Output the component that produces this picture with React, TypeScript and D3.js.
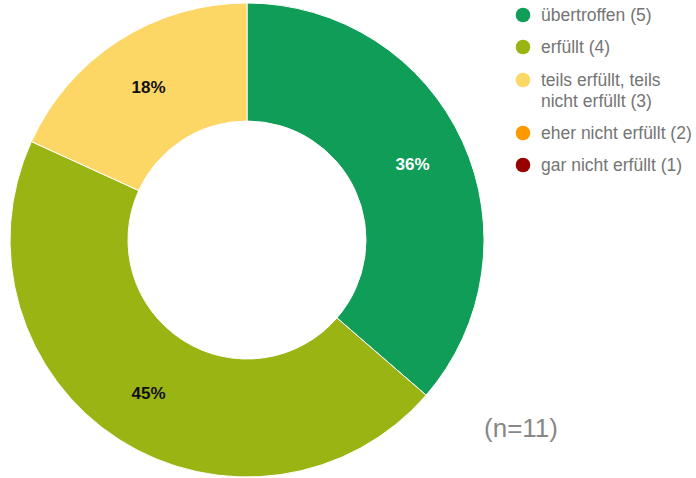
import React from "react";
import * as d3 from "d3";

const categories = ["übertroffen (5)", "erfüllt (4)", "teils erfüllt, teils nicht erfüllt (3)", "eher nicht erfüllt (2)", "gar nicht erfüllt (1)"];
const legendLines = [["übertroffen (5)"], ["erfüllt (4)"], ["teils erfüllt, teils", "nicht erfüllt (3)"], ["eher nicht erfüllt (2)"], ["gar nicht erfüllt (1)"]];
const counts = [4, 5, 2, 0, 0];
const colors = ["#0F9D58", "#9AB513", "#FDD766", "#FF9900", "#990000"];
const labelColors = ["#ffffff", "#111111", "#111111", "#111111", "#111111"];
const nLabel = "(n=11)";

export default function App() {
  const W = 696, H = 478;
  const cx = 247, cy = 240, rOuter = 237, rInner = 119;
  const total = d3.sum(counts);
  const pie = d3.pie<number>().value(d => d).sort(null);
  const arcs = pie(counts);
  const arc = d3.arc<d3.PieArcDatum<number>>().innerRadius(rInner).outerRadius(rOuter);
  const labelArc = d3.arc<d3.PieArcDatum<number>>().innerRadius(182).outerRadius(182);
  const fmt = d3.format(".0%");
  const legendY = [15, 47, 80, 133, 165];

  return (
    <svg width={W} height={H} style={{ position: "absolute", left: 0, top: 0, fontFamily: "Liberation Sans, Arial, sans-serif" }}>
      <rect width={W} height={H} fill="#fff" />
      <g transform={`translate(${cx},${cy})`}>
        {arcs.map((a, i) => a.value > 0 ? (
          <path key={i} d={arc(a) || ""} fill={colors[i]} stroke="#fff" strokeWidth={1} />
        ) : null)}
        {arcs.map((a, i) => {
          if (a.value <= 0) return null;
          const [x, y] = labelArc.centroid(a);
          return (
            <text key={"l" + i} x={x} y={y} dy="0.35em" textAnchor="middle" fontSize={17} fontWeight="bold" fill={labelColors[i]}>
              {fmt(a.value / total)}
            </text>
          );
        })}
      </g>
      <g>
        {categories.map((c, i) => (
          <g key={c}>
            <circle cx={523} cy={legendY[i]} r={7.3} fill={colors[i]} />
            {legendLines[i].map((line, j) => (
              <text key={j} x={541} y={legendY[i] + j * 21} dy="0.35em" fontSize={17.5} fill="#757575">{line}</text>
            ))}
          </g>
        ))}
      </g>
      <text x={521} y={428} dy="0.35em" textAnchor="middle" fontSize={26} fill="#888">{nLabel}</text>
    </svg>
  );
}
